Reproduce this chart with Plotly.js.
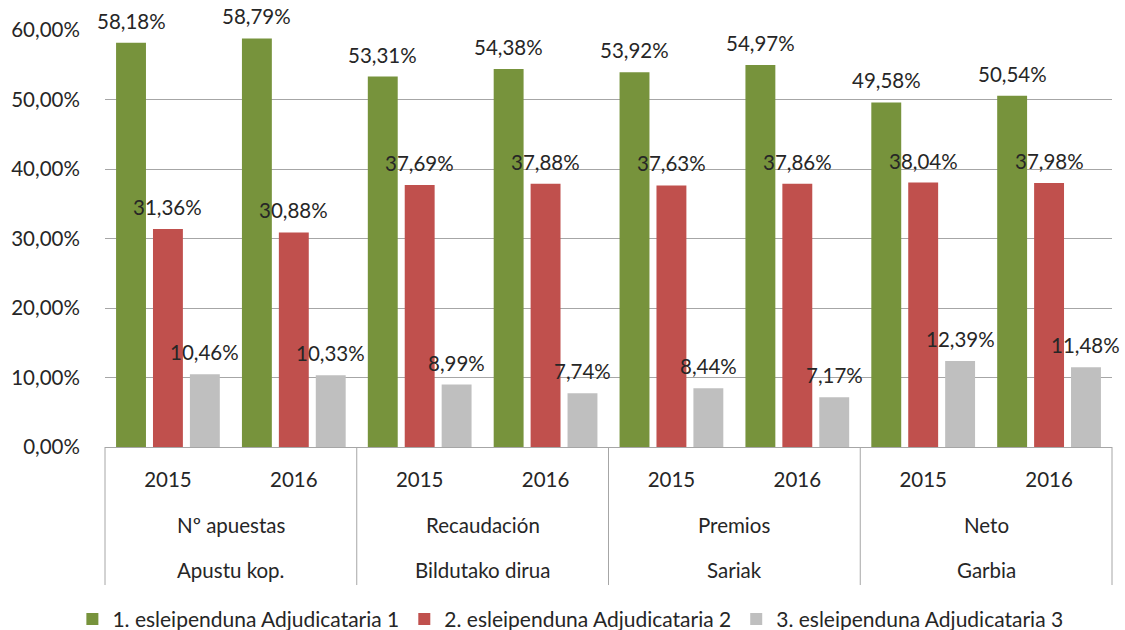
<!DOCTYPE html>
<html>
<head>
<meta charset="utf-8">
<script src="https://cdn.plot.ly/plotly-3.0.1.min.js"></script>
<style>html,body{margin:0;padding:0;background:#fff}#chart{width:1125px;height:630px}</style>
</head>
<body>
<div id="chart"></div>
<script>
const years = ['2015','2016','2015','2016','2015','2016','2015','2016'];
const groupNames = ['Nº apuestas','Recaudación','Premios','Neto'];
const groupSubNames = ['Apustu kop.','Bildutako dirua','Sariak','Garbia'];
const seriesNames = ['1. esleipenduna Adjudicataria 1','2. esleipenduna Adjudicataria 2','3. esleipenduna Adjudicataria 3'];
const adj1 = [58.18, 58.79, 53.31, 54.38, 53.92, 54.97, 49.58, 50.54];
const adj2 = [31.36, 30.88, 37.69, 37.88, 37.63, 37.86, 38.04, 37.98];
const adj3 = [10.46, 10.33, 8.99, 7.74, 8.44, 7.17, 12.39, 11.48];
const colors = ['#77933C','#C0504D','#BFBFBF'];

const FONT = 'Lato, "Open Sans", sans-serif';
const TXT = '#262626';
const GRID = '#A6A6A6';
const bargap = 0.12;
const xIdx = years.map((_, i) => i);
const series = [adj1, adj2, adj3];

const traces = series.map((vals, s) => ({
  type: 'bar',
  name: seriesNames[s],
  x: xIdx,
  y: vals,
  marker: {color: colors[s], line: {width: 0}},
  hoverinfo: 'y'
}));

const fmt = v => v.toFixed(2).replace('.', ',') + '%';
const annotations = [];
series.forEach((vals, s) => {
  vals.forEach((v, i) => {
    annotations.push({
      x: i + (s - 1) * (1 - bargap) / 3,
      y: v, xref: 'x', yref: 'y',
      text: fmt(v), showarrow: false,
      xanchor: 'center', yanchor: 'bottom', yshift: 8,
      font: {family: FONT, size: 20.5, color: TXT}
    });
  });
});
groupNames.forEach((g, k) => {
  annotations.push({
    x: 2 * k + 0.5, y: 0, xref: 'x', yref: 'paper', text: g, showarrow: false,
    xanchor: 'center', yanchor: 'middle', yshift: -78,
    font: {family: FONT, size: 20.5, color: TXT}
  });
  annotations.push({
    x: 2 * k + 0.5, y: 0, xref: 'x', yref: 'paper', text: groupSubNames[k], showarrow: false,
    xanchor: 'center', yanchor: 'middle', yshift: -123,
    font: {family: FONT, size: 20.5, color: TXT}
  });
});

const shapes = [];
for (let k = 0; k <= groupNames.length; k++) {
  shapes.push({
    type: 'line', xref: 'paper', yref: 'paper',
    x0: k / groupNames.length, x1: k / groupNames.length, y0: 0, y1: -0.331,
    line: {color: GRID, width: 1}
  });
}

const layout = {
  width: 1125, height: 630,
  margin: {l: 105, r: 13, t: 30, b: 183, autoexpand: false},
  paper_bgcolor: '#fff', plot_bgcolor: '#fff',
  separators: ',.',
  barmode: 'group', bargap: bargap, bargroupgap: 0.19,
  font: {family: FONT, size: 20, color: TXT},
  showlegend: true,
  legend: {
    orientation: 'h', xref: 'container', yref: 'container',
    x: 0.507, xanchor: 'center', y: 0.017, yanchor: 'middle',
    font: {family: FONT, size: 21, color: TXT},
    itemwidth: 30, tracegroupgap: 0
  },
  xaxis: {
    range: [-0.5, 7.5], tickmode: 'array', tickvals: xIdx, ticktext: years,
    ticks: 'outside', ticklen: 14, tickcolor: 'rgba(0,0,0,0)',
    showline: true, linecolor: GRID, linewidth: 1,
    showgrid: false, zeroline: false, fixedrange: true,
    tickfont: {family: FONT, size: 20.5, color: TXT}
  },
  yaxis: {
    range: [0, 60], dtick: 10, tickformat: '.2f', ticksuffix: '%',
    ticks: 'outside', ticklen: 20, tickcolor: 'rgba(0,0,0,0)',
    showgrid: true, gridcolor: GRID, gridwidth: 1,
    showline: false, zeroline: false, fixedrange: true,
    tickfont: {family: FONT, size: 20.5, color: TXT}
  },
  annotations: annotations,
  shapes: shapes
};

Plotly.newPlot('chart', traces, layout, {displayModeBar: false, staticPlot: true});
</script>
</body>
</html>
